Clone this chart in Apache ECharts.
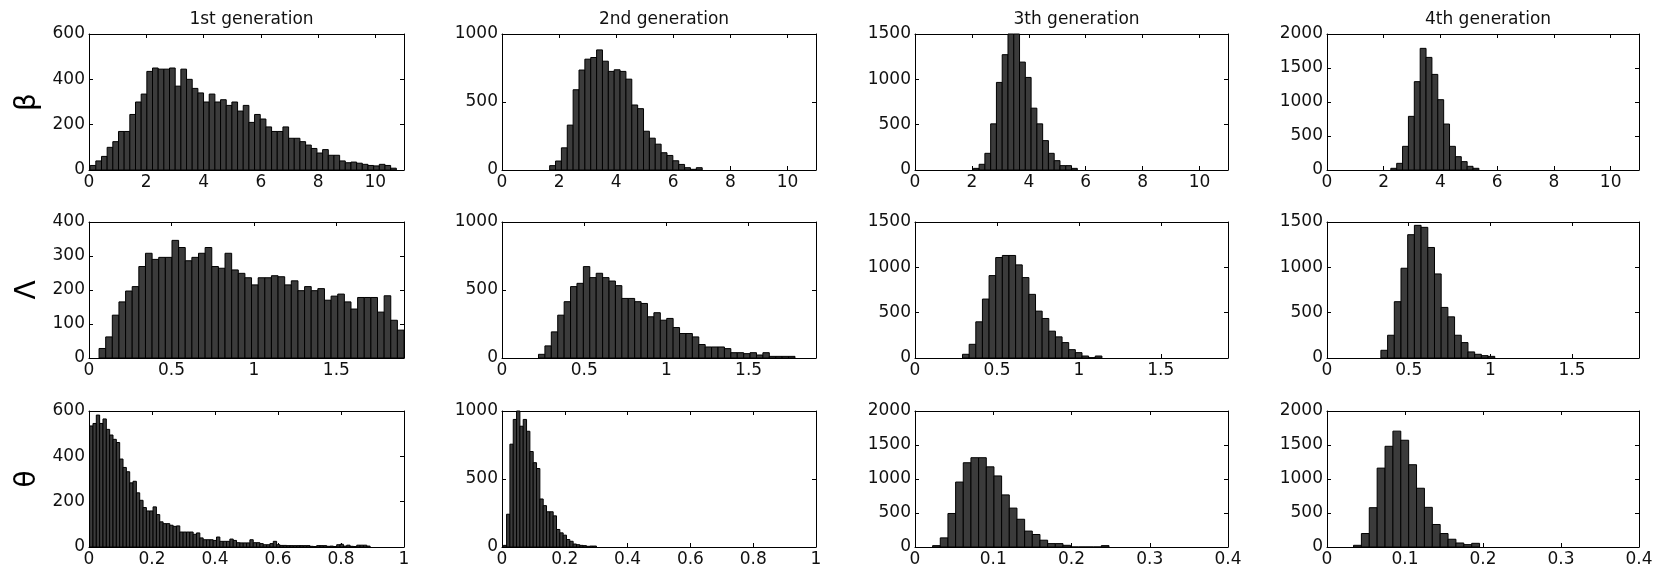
<!DOCTYPE html>
<html>
<head>
<meta charset="utf-8">
<script src="https://cdn.jsdelivr.net/npm/echarts@6.0.0/dist/echarts.min.js"></script>
<style>
  html, body { margin: 0; padding: 0; background: #fff; }
  #chart { width: 1662px; height: 570px; }
</style>
</head>
<body>
<div id="chart"></div>
<script>
// Column headings and parameter symbols
const generations = ['1st generation', '2nd generation', '3th generation', '4th generation'];
const paramNames = ['β', 'Λ', 'θ'];

// Histogram bins: first bin edge, bin width, counts per bin
const betaG1 = { start: 0.04, width: 0.198, counts: [20, 40, 60, 100, 125, 170, 170, 245, 300, 335, 435, 450, 445, 445, 450, 370, 445, 400, 360, 340, 300, 335, 300, 310, 285, 300, 260, 285, 210, 245, 225, 190, 170, 170, 190, 140, 140, 125, 110, 95, 75, 90, 65, 65, 40, 32, 35, 30, 25, 20, 18, 25, 20, 8] };
const betaG2 = { start: 1.67, width: 0.2055, counts: [32, 66, 163, 330, 590, 735, 815, 827, 883, 800, 725, 737, 725, 668, 478, 451, 285, 234, 190, 127, 107, 68, 41, 17, 5, 17] };
const betaG3 = { start: 2.05, width: 0.203, counts: [18, 63, 184, 509, 966, 1272, 1500, 1500, 1190, 1021, 682, 509, 324, 184, 103, 48, 48, 18] };
const betaG4 = { start: 2.25, width: 0.207, counts: [25, 98, 348, 789, 1299, 1789, 1656, 1406, 1034, 676, 348, 196, 123, 54, 25] };

const lambdaG1 = { start: 0.061, width: 0.0402, counts: [28, 62, 126, 165, 197, 210, 269, 308, 290, 296, 296, 346, 325, 286, 296, 308, 325, 269, 264, 308, 259, 249, 236, 215, 236, 236, 242, 239, 215, 227, 198, 210, 198, 204, 170, 182, 188, 165, 144, 178, 178, 178, 135, 183, 111, 82] };
const lambdaG2 = { start: 0.222, width: 0.039, counts: [27, 89, 192, 315, 414, 525, 549, 672, 591, 623, 591, 566, 532, 438, 438, 414, 401, 303, 333, 278, 291, 224, 180, 180, 155, 99, 81, 81, 81, 69, 39, 39, 32, 39, 22, 39, 12, 12, 12, 12] };
const lambdaG3 = { start: 0.29, width: 0.0405, counts: [41, 151, 399, 650, 909, 1108, 1131, 1131, 1027, 887, 702, 517, 436, 296, 233, 170, 92, 59, 22, 4, 22] };
const lambdaG4 = { start: 0.33, width: 0.041, counts: [85, 251, 621, 990, 1360, 1463, 1441, 1219, 927, 558, 454, 251, 170, 67, 41, 26, 18] };

const thetaG1 = { start: 0.002, width: 0.0106, counts: [534, 545, 582, 545, 565, 519, 494, 475, 461, 388, 351, 332, 283, 290, 239, 206, 174, 159, 159, 177, 143, 111, 103, 103, 96, 91, 93, 66, 66, 66, 66, 56, 62, 40, 32, 32, 32, 29, 44, 25, 25, 25, 35, 29, 19, 18, 18, 18, 32, 19, 19, 15, 10, 10, 15, 25, 10, 7, 7, 6, 6, 6, 6, 6, 6, 6, 3, 2, 6, 6, 6, 3, 4, 2, 10, 12, 4, 8, 3, 2, 8, 8, 8, 4] };
const thetaG2 = { start: 0.004, width: 0.0106, counts: [12, 241, 756, 938, 1000, 888, 938, 851, 702, 620, 577, 353, 304, 259, 259, 229, 129, 104, 87, 55, 42, 22, 17, 12, 10, 5, 7, 7] };
const thetaG3 = { start: 0.0225, width: 0.0098, counts: [20, 134, 493, 955, 1239, 1313, 1313, 1179, 1045, 766, 572, 408, 234, 184, 100, 50, 50, 25, 0, 0, 0, 0, 20] };
const thetaG4 = { start: 0.034, width: 0.0101, counts: [25, 198, 578, 1160, 1481, 1704, 1570, 1210, 864, 583, 331, 198, 114, 59, 35, 54] };

const panels = [
  [betaG1, betaG2, betaG3, betaG4],
  [lambdaG1, lambdaG2, lambdaG3, lambdaG4],
  [thetaG1, thetaG2, thetaG3, thetaG4]
];

// Axis extents and tick steps per row / panel
const xMax = [[11, 11, 11, 11], [1.91, 1.91, 1.91, 1.91], [1, 1, 0.4, 0.4]];
const xStep = [[2, 2, 2, 2], [0.5, 0.5, 0.5, 0.5], [0.2, 0.2, 0.1, 0.1]];
const yMax = [[600, 1000, 1500, 2000], [400, 1000, 1500, 1500], [600, 1000, 2000, 2000]];
const yStep = [[200, 500, 500, 500], [100, 500, 500, 500], [200, 500, 500, 500]];

// Panel placement
const colLeft = [89, 502, 915, 1327];
const colWidth = [315, 314, 313, 312];
const rowTop = [34, 222, 411];
const plotHeight = 136;

const FONT = 'DejaVu Sans';
const lineStyle = { color: '#000', width: 1 };
const plainNumber = v => String(Math.round(v * 10000) / 10000);

function binsToData(h) {
  return h.counts.map((c, i) => [h.start + i * h.width, h.start + (i + 1) * h.width, c]);
}

// One rectangle per bin, spanning its edges on the x axis
function renderBar(params, api) {
  const p0 = api.coord([api.value(0), api.value(2)]);
  const p1 = api.coord([api.value(1), 0]);
  return {
    type: 'rect',
    shape: { x: p0[0], y: p0[1], width: p1[0] - p0[0], height: p1[1] - p0[1] },
    style: { fill: '#3b3b3b', stroke: '#000', lineWidth: 1 }
  };
}

const grid = [], xAxis = [], yAxis = [], series = [], title = [];

panels.forEach((row, r) => {
  row.forEach((hist, c) => {
    const g = r * 4 + c;
    grid.push({ left: colLeft[c], top: rowTop[r], width: colWidth[c], height: plotHeight, containLabel: false });

    const xCommon = {
      type: 'value', gridIndex: g, min: 0, max: xMax[r][c], interval: xStep[r][c],
      axisLine: { show: true, onZero: false, lineStyle },
      axisTick: { show: true, inside: true, length: 4, lineStyle },
      splitLine: { show: false }
    };
    xAxis.push(Object.assign({}, xCommon, {
      position: 'bottom',
      axisLabel: {
        show: true, color: '#111', fontSize: 17, fontFamily: FONT, margin: 4,
        formatter: plainNumber,
        showMaxLabel: (xMax[r][c] / xStep[r][c]) % 1 === 0
      }
    }));
    xAxis.push(Object.assign({}, xCommon, { position: 'top', axisLabel: { show: false } }));

    const yCommon = {
      type: 'value', gridIndex: g, min: 0, max: yMax[r][c], interval: yStep[r][c],
      axisLine: { show: true, onZero: false, lineStyle },
      axisTick: { show: true, inside: true, length: 4, lineStyle },
      splitLine: { show: false }
    };
    const yLeft = Object.assign({}, yCommon, {
      position: 'left',
      axisLabel: { show: true, color: '#111', fontSize: 17, fontFamily: FONT, margin: 4, formatter: plainNumber }
    });
    if (c === 0) {
      Object.assign(yLeft, {
        name: paramNames[r], nameLocation: 'middle', nameGap: 47, nameRotate: 90,
        nameTextStyle: { fontSize: 28, fontFamily: FONT, color: '#000' }
      });
    }
    yAxis.push(yLeft);
    yAxis.push(Object.assign({}, yCommon, { position: 'right', axisLabel: { show: false } }));

    series.push({
      type: 'custom',
      coordinateSystem: 'cartesian2d',
      xAxisIndex: 2 * g,
      yAxisIndex: 2 * g,
      encode: { x: [0, 1], y: 2 },
      data: binsToData(hist),
      renderItem: renderBar,
      silent: true
    });
  });
});

generations.forEach((text, c) => {
  title.push({
    text, left: colLeft[c] + colWidth[c] / 2, top: 6, textAlign: 'center',
    textStyle: { fontSize: 17, fontWeight: 'normal', fontFamily: FONT, color: '#111' }
  });
});

const chart = echarts.init(document.getElementById('chart'), null, { renderer: 'canvas' });
chart.setOption({
  animation: false,
  backgroundColor: '#fff',
  title, grid, xAxis, yAxis, series
});
</script>
</body>
</html>
